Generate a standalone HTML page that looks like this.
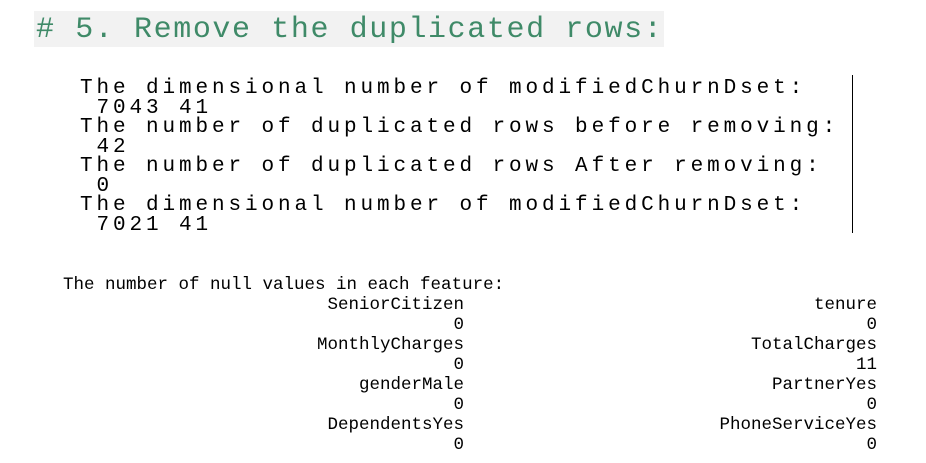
<!DOCTYPE html>
<html><head><style>
body{margin:0;width:926px;height:463px;background:#fff;position:relative;overflow:hidden;font-family:"Liberation Mono",monospace;color:#000}
.a{position:absolute;white-space:pre}
.hd{left:34px;top:11px;width:630px;height:36px;background:#f2f2f2}
.ht{left:36px;top:10px;font-size:30px;letter-spacing:1.6px;color:#3f8a68;line-height:40px}
.o{font-size:21px;letter-spacing:3.9px;line-height:19.5px;left:80px;top:79px}
.n{font-size:17.5px;line-height:20px}
.r{text-align:right}
</style></head><body>
<div class="a hd"></div>
<div class="a ht"># 5. Remove the duplicated rows:</div>
<div class="a o">The dimensional number of modifiedChurnDset:
 7043 41
The number of duplicated rows before removing:
 42
The number of duplicated rows After removing:
 0
The dimensional number of modifiedChurnDset:
 7021 41</div>
<div class="a" style="left:852px;top:75px;width:1px;height:158px;background:#000"></div>
<div class="a n" style="left:63px;top:275px">The number of null values in each feature:</div>
<div class="a n r" style="left:200px;width:264px;top:295px">SeniorCitizen
0
MonthlyCharges
0
genderMale
0
DependentsYes
0</div>
<div class="a n r" style="left:600px;width:277px;top:295px">tenure
0
TotalCharges
11
PartnerYes
0
PhoneServiceYes
0</div>
</body></html>
